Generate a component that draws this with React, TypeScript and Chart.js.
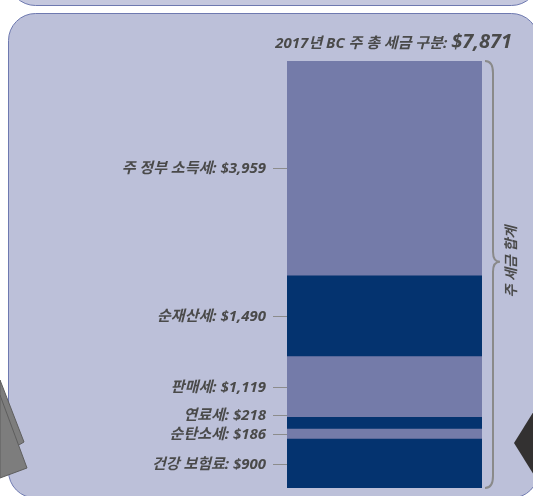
import React, { useEffect, useRef } from "react";
import { Chart, registerables } from "chart.js";

Chart.register(...registerables);

// Stack order: bottom to top
const categories = ["건강 보험료", "순탄소세", "연료세", "판매세", "순재산세", "주 정부 소득세"];
const values = [900, 186, 218, 1119, 1490, 3959];
const segmentColors = ["#04336f", "#747ba9", "#04336f", "#747ba9", "#04336f", "#747ba9"];
const titleText = "2017년 BC 주 총 세금 구분:";
const totalText = "$7,871";
const braceLabel = "주 세금 합계";

const FONT_FAMILY = "'Open Sans', 'Noto Sans CJK KR', sans-serif";
const TEXT_COLOR = "#4a4a4a";
const LINE_COLOR = "#8c8c8c";

const fmt = (v: number) => "$" + v.toLocaleString("en-US");

const decorPlugin = {
  id: "decor",
  beforeDraw(chart: any) {
    const ctx = chart.ctx as CanvasRenderingContext2D;
    const w = chart.width;
    const h = chart.height;
    ctx.save();
    ctx.fillStyle = "#ffffff";
    ctx.fillRect(0, 0, w, h);
    // upper panel (mostly out of view)
    ctx.beginPath();
    ctx.roundRect(8.5, -60, 530, 65.5, 27);
    ctx.fillStyle = "#c5c8de";
    ctx.fill();
    ctx.strokeStyle = "#6e79b0";
    ctx.lineWidth = 1;
    ctx.stroke();
    // main panel
    ctx.beginPath();
    ctx.roundRect(8.5, 13.5, 530, 484.5, 27);
    ctx.fillStyle = "#bcc0d9";
    ctx.fill();
    ctx.stroke();
    // decorative shapes
    ctx.fillStyle = "#7d7d7d";
    ctx.strokeStyle = "#5e5e5e";
    ctx.beginPath();
    ctx.moveTo(0, 380);
    ctx.lineTo(24, 442);
    ctx.lineTo(0, 456);
    ctx.closePath();
    ctx.fill();
    ctx.stroke();
    ctx.beginPath();
    ctx.moveTo(0, 395);
    ctx.lineTo(27, 468);
    ctx.lineTo(0, 478);
    ctx.closePath();
    ctx.fill();
    ctx.stroke();
    ctx.fillStyle = "#333131";
    ctx.beginPath();
    ctx.moveTo(534, 411);
    ctx.lineTo(514, 443);
    ctx.lineTo(534, 475);
    ctx.closePath();
    ctx.fill();
    ctx.restore();
  },
  afterDatasetsDraw(chart: any) {
    const ctx = chart.ctx as CanvasRenderingContext2D;
    const area = chart.chartArea;
    ctx.save();

    // Title
    ctx.fillStyle = TEXT_COLOR;
    ctx.textBaseline = "alphabetic";
    ctx.textAlign = "right";
    ctx.font = `italic bold 20px ${FONT_FAMILY}`;
    const titleRight = area.right + 30;
    const tw = ctx.measureText(totalText).width;
    ctx.fillText(totalText, titleRight, 48);
    ctx.font = `italic bold 15px ${FONT_FAMILY}`;
    ctx.fillText(titleText, titleRight - tw - 4, 48);

    // Labels with leader lines
    const ys: number[] = [];
    let prev = Infinity;
    for (let i = 0; i < values.length; i++) {
      const el = chart.getDatasetMeta(i).data[0];
      let c = (el.y + el.base) / 2;
      if (c > prev - 19) c = prev - 19;
      ys.push(c);
      prev = c;
    }
    ctx.font = `italic bold 15px ${FONT_FAMILY}`;
    ctx.textAlign = "right";
    ctx.textBaseline = "middle";
    for (let i = 0; i < values.length; i++) {
      const y = Math.round(ys[i]) + 0.5;
      ctx.fillStyle = TEXT_COLOR;
      ctx.fillText(`${categories[i]}: ${fmt(values[i])}`, area.left - 21, y);
      ctx.strokeStyle = LINE_COLOR;
      ctx.lineWidth = 1;
      ctx.beginPath();
      ctx.moveTo(area.left - 14, y);
      ctx.lineTo(area.left, y);
      ctx.stroke();
    }

    // Brace
    const x0 = area.right + 3;
    const x1 = area.right + 11;
    const xt = area.right + 18;
    const top = area.top;
    const bot = area.bottom;
    const mid = top + (bot - top) * 0.47;
    ctx.strokeStyle = "#8a8a8a";
    ctx.lineWidth = 2;
    ctx.beginPath();
    ctx.moveTo(x0, top);
    ctx.quadraticCurveTo(x1, top, x1, top + 12);
    ctx.lineTo(x1, mid - 10);
    ctx.quadraticCurveTo(x1, mid, xt, mid);
    ctx.quadraticCurveTo(x1, mid, x1, mid + 10);
    ctx.lineTo(x1, bot - 12);
    ctx.quadraticCurveTo(x1, bot, x0, bot);
    ctx.stroke();

    ctx.translate(area.right + 30, mid);
    ctx.rotate(-Math.PI / 2);
    ctx.textAlign = "center";
    ctx.textBaseline = "middle";
    ctx.fillStyle = TEXT_COLOR;
    ctx.font = `italic bold 14px ${FONT_FAMILY}`;
    ctx.fillText(braceLabel, 0, 0);
    ctx.restore();
  },
};

export default function App() {
  const canvasRef = useRef<HTMLCanvasElement | null>(null);

  useEffect(() => {
    document.body.style.margin = "0";
    const canvas = canvasRef.current;
    if (!canvas) return;
    const total = values.reduce((a, b) => a + b, 0);
    const chart = new Chart(canvas, {
      type: "bar",
      data: {
        labels: ["total"],
        datasets: categories.map((c, i) => ({
          label: c,
          data: [values[i]],
          backgroundColor: segmentColors[i],
          borderWidth: 0,
          barPercentage: 1,
          categoryPercentage: 1,
        })),
      },
      options: {
        animation: false,
        responsive: false,
        maintainAspectRatio: false,
        layout: { padding: { left: 287, right: 51, top: 61, bottom: 8 } },
        plugins: {
          legend: { display: false },
          tooltip: { enabled: false },
        },
        scales: {
          x: { stacked: true, display: false },
          y: { stacked: true, display: false, min: 0, max: total },
        },
      },
      plugins: [decorPlugin],
    });
    return () => chart.destroy();
  }, []);

  return (
    <div style={{ position: "fixed", left: 0, top: 0, width: 533, height: 496 }}>
      <canvas ref={canvasRef} width={533} height={496} style={{ display: "block" }} />
    </div>
  );
}
